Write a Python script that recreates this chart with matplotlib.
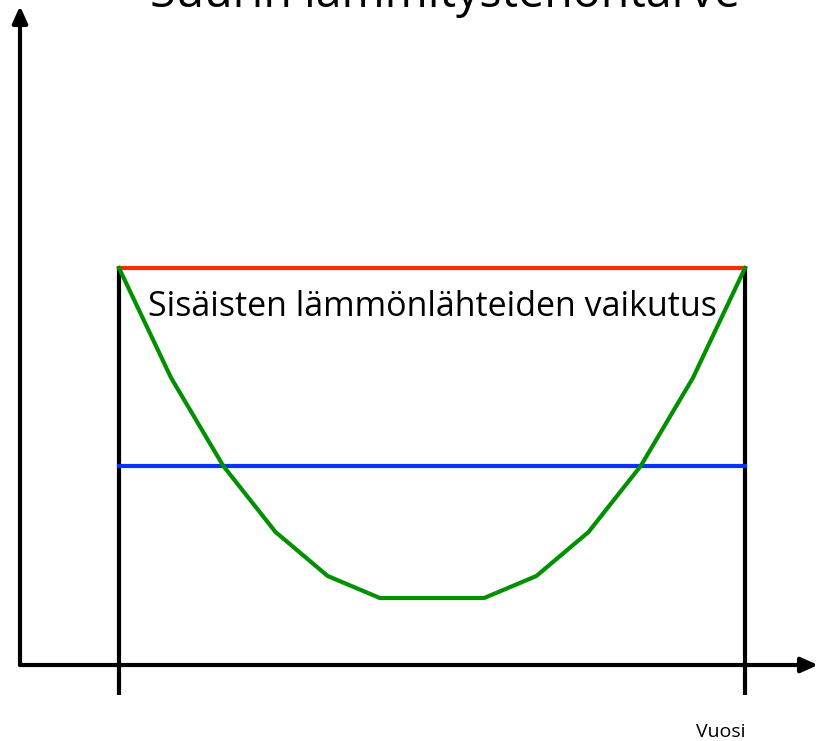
import numpy as np
import matplotlib.pyplot as plt

# kuukausi-indeksit (0..12) ja lämmitystehon tarve (suhteellinen)
months = np.arange(13)
demand = [397, 287, 199, 133, 89, 67, 67, 67, 89, 133, 199, 287, 397]
max_level = 397     # suurin lämmitystehontarve
mid_level = 199     # sisäisten lämmönlähteiden vaikutus -raja

title = "Suurin lämmitystehontarve"
inner_label = "Sisäisten lämmönlähteiden vaikutus"
x_label = "Vuosi"

fig = plt.figure(figsize=(8.27, 7.41), dpi=100)
ax = fig.add_axes([0, 0, 1, 1])
ax.axis('off')

# pikseli -> data: x = 119 + 52.17*m, y = 665 - v
sx = 52.17
ax.set_xlim(-119 / sx, (827 - 119) / sx)
ax.set_ylim(665 - 741, 665)

x_axis_start = -99 / sx
# akselit nuolilla
ax.annotate('', xy=((818 - 119) / sx, 0), xytext=(x_axis_start, 0),
            arrowprops=dict(arrowstyle='-|>,head_length=1.0,head_width=0.45',
                            lw=3, color='black', shrinkA=0, shrinkB=0))
ax.annotate('', xy=(x_axis_start, 665 - 6), xytext=(x_axis_start, 0),
            arrowprops=dict(arrowstyle='-|>,head_length=1.0,head_width=0.45',
                            lw=3, color='black', shrinkA=0, shrinkB=0))

# pystyviivat vuoden alussa ja lopussa
for m in (months[0], months[-1]):
    ax.plot([m, m], [max_level, -30], color='black', lw=3, solid_capstyle='butt')

ax.plot([months[0], months[-1]], [max_level, max_level], color='#ff2a00', lw=3)
ax.plot([months[0], months[-1]], [mid_level, mid_level], color='#0a32ff', lw=3)
ax.plot(months, demand, color='#009000', lw=3)

ax.text((148 - 119) / sx, 665 - 316, inner_label, fontsize=24.5,
        family='Open Sans', va='baseline', ha='left')
ax.text((721 - 119) / sx, 665 - 737, x_label, fontsize=14,
        family='Open Sans', va='baseline', ha='center')
# otsikko on alkuperäisessä kuvassa osittain rajattu yläreunan yli
ax.text((445 - 119) / sx, 665 - 7, title, fontsize=33.5,
        family='Open Sans', va='baseline', ha='center')

fig.savefig('out.png', dpi=100)
